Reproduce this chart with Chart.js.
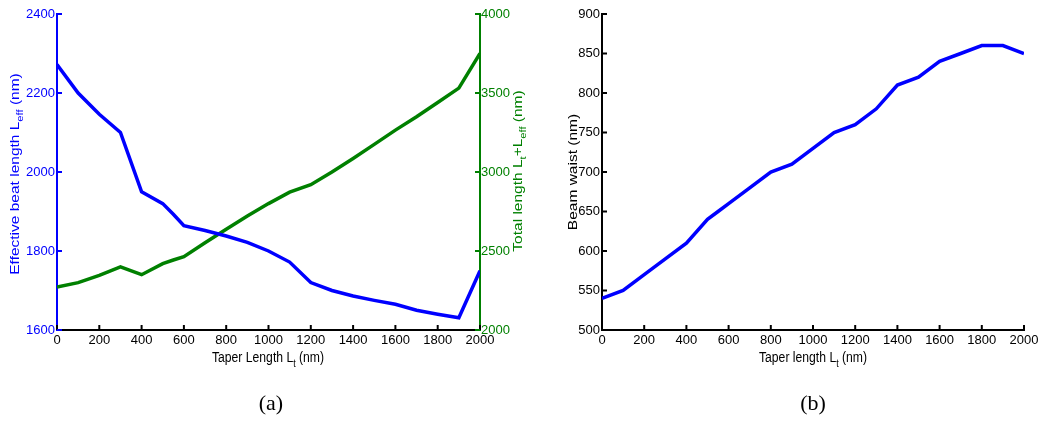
<!DOCTYPE html>
<html>
<head>
<meta charset="utf-8">
<script src="https://cdn.jsdelivr.net/npm/chart.js@4.4.0/dist/chart.umd.min.js"></script>
<style>
  body { margin: 0; background: #fff; width: 1039px; height: 421px; overflow: hidden; position: relative; }
  #chartA { position: absolute; left: 0; top: 0; }
  #chartB { position: absolute; left: 540px; top: 0; }
  .cap { position: absolute; top: 390px; width: 100px; text-align: center; font: 22px "Liberation Serif", serif; color: #000; }
</style>
</head>
<body>
<canvas id="chartA" width="540" height="421"></canvas>
<canvas id="chartB" width="499" height="421"></canvas>
<div class="cap" style="left:221px">(a)</div>
<div class="cap" style="left:763px">(b)</div>

<script>
// valeurs
const taperA = [0, 100, 200, 300, 400, 500, 550, 600, 700, 800, 900, 1000, 1100, 1200, 1300, 1400, 1500, 1600, 1700, 1800, 1900, 2000];
const beatLength = [2272, 2200, 2146, 2100, 1950, 1920, 1893, 1864, 1852, 1838, 1822, 1800, 1772, 1720, 1700, 1686, 1675, 1665, 1650, 1640, 1631, 1750];
const totalLength = [2272, 2300, 2346, 2400, 2350, 2420, 2443, 2464, 2552, 2638, 2722, 2800, 2872, 2920, 3000, 3086, 3175, 3265, 3350, 3440, 3531, 3750];

const taperB = [0, 100, 200, 300, 400, 500, 550, 600, 700, 800, 900, 1000, 1100, 1200, 1300, 1400, 1500, 1600, 1700, 1800, 1900, 2000];
const beamWaist = [540, 550, 570, 590, 610, 640, 650, 660, 680, 700, 710, 730, 750, 760, 780, 810, 820, 840, 850, 860, 860, 850];

// graduations
const taperTicks = [0, 200, 400, 600, 800, 1000, 1200, 1400, 1600, 1800, 2000];
const beatTicks = [1600, 1800, 2000, 2200, 2400];
const totalTicks = [2000, 2500, 3000, 3500, 4000];
const waistTicks = [500, 550, 600, 650, 700, 750, 800, 850, 900];

const BLUE = '#0000ff';
const GREEN = '#008000';
const FONT = '"Liberation Sans", Arial, sans-serif';

function pts(xs, ys) {
    return xs.map((x, i) => ({ x: x, y: ys[i] }));
}

// axe avec largeur/hauteur imposée
function axis(opts) {
    return {
        type: 'linear',
        position: opts.position,
        min: opts.min,
        max: opts.max,
        grid: { display: false, drawTicks: false, tickLength: 0 },
        border: { display: true, color: opts.color, width: 2 },
        ticks: {
            color: opts.color,
            font: { family: FONT, size: 13 },
            padding: opts.padding || 3,
            autoSkip: false,
            maxRotation: 0,
            callback: v => String(v) // pas de séparateur de milliers
        },
        afterBuildTicks: s => { s.ticks = opts.ticks.map(v => ({ value: v })); },
        afterFit: s => {
            if (opts.width !== undefined) s.width = opts.width;
            if (opts.height !== undefined) s.height = opts.height;
            s.paddingLeft = 0; s.paddingRight = 0; s.paddingTop = 0; s.paddingBottom = 0;
        }
    };
}

// texte avec indices
function richText(ctx, t) {
    const size = t.size;
    ctx.save();
    ctx.translate(t.x, t.y);
    ctx.rotate(t.rot);
    ctx.scale(t.sx || 1, t.sy || 1);
    ctx.fillStyle = t.color;
    ctx.textBaseline = 'alphabetic';
    let total = 0;
    t.parts.forEach(p => {
        ctx.font = (p.sub ? size * 0.72 : size) + 'px ' + FONT;
        p.w = ctx.measureText(p.t).width;
        total += p.w;
    });
    let x = -total / 2;
    const base = size * 0.36;
    t.parts.forEach(p => {
        ctx.font = (p.sub ? size * 0.72 : size) + 'px ' + FONT;
        ctx.fillText(p.t, x, p.sub ? base + size * 0.32 : base);
        x += p.w;
    });
    ctx.restore();
}

// petites graduations vers l'intérieur + titres d'axes
const matlabAxes = {
    id: 'matlabAxes',
    afterDraw(chart, args, opts) {
        const ctx = chart.ctx;
        ctx.save();
        Object.values(chart.scales).forEach(s => {
            ctx.strokeStyle = s.options.border.color;
            ctx.lineWidth = 2;
            s.ticks.forEach(t => {
                const p = s.getPixelForValue(t.value);
                ctx.beginPath();
                if (s.axis === 'x') {
                    ctx.moveTo(p, s.top); ctx.lineTo(p, s.top - 5);
                } else if (s.position === 'left') {
                    ctx.moveTo(s.right, p); ctx.lineTo(s.right + 5, p);
                } else {
                    ctx.moveTo(s.left, p); ctx.lineTo(s.left - 5, p);
                }
                ctx.stroke();
            });
        });
        ctx.restore();
        (opts.titles || []).forEach(t => richText(ctx, t));
    }
};

const chartA = new Chart(document.getElementById('chartA').getContext('2d'), {
    type: 'line',
    data: {
        datasets: [
            { data: pts(taperA, beatLength), yAxisID: 'y', borderColor: BLUE, borderWidth: 3.5, pointRadius: 0, tension: 0 },
            { data: pts(taperA, totalLength), yAxisID: 'y2', borderColor: GREEN, borderWidth: 3.5, pointRadius: 0, tension: 0 }
        ]
    },
    options: {
        responsive: false,
        animation: false,
        events: [],
        layout: { padding: { top: 14, left: 0, right: 0, bottom: 0 } },
        scales: {
            x: axis({ position: 'bottom', min: 0, max: 2000, ticks: taperTicks, color: '#000', height: 91, padding: 3 }),
            y: axis({ position: 'left', min: 1600, max: 2400, ticks: beatTicks, color: BLUE, width: 57, padding: 2 }),
            y2: axis({ position: 'right', min: 2000, max: 4000, ticks: totalTicks, color: GREEN, width: 60, padding: 1 })
        },
        plugins: {
            legend: { display: false },
            tooltip: { enabled: false },
            matlabAxes: {
                titles: [
                    { parts: [{ t: 'Effective beat length L' }, { t: 'eff', sub: true }, { t: ' (nm)' }], size: 15.5, sy: 0.87, x: 14, y: 174, rot: -Math.PI / 2, color: BLUE },
                    { parts: [{ t: 'Total length L' }, { t: 't', sub: true }, { t: '+L' }, { t: 'eff', sub: true }, { t: ' (nm)' }], size: 15.5, sy: 0.87, x: 517, y: 171, rot: -Math.PI / 2, color: GREEN },
                    { parts: [{ t: 'Taper Length L' }, { t: 't', sub: true }, { t: ' (nm)' }], size: 14, sx: 0.87, x: 268, y: 357, rot: 0, color: '#000' }
                ]
            }
        }
    },
    plugins: [matlabAxes]
});

const chartB = new Chart(document.getElementById('chartB').getContext('2d'), {
    type: 'line',
    data: {
        datasets: [
            { data: pts(taperB, beamWaist), borderColor: BLUE, borderWidth: 3.5, pointRadius: 0, tension: 0 }
        ]
    },
    options: {
        responsive: false,
        animation: false,
        events: [],
        layout: { padding: { top: 14, left: 0, right: 15, bottom: 0 } },
        scales: {
            x: axis({ position: 'bottom', min: 0, max: 2000, ticks: taperTicks, color: '#000', height: 91, padding: 3 }),
            y: axis({ position: 'left', min: 500, max: 900, ticks: waistTicks, color: '#000', width: 62, padding: 2 })
        },
        plugins: {
            legend: { display: false },
            tooltip: { enabled: false },
            matlabAxes: {
                titles: [
                    { parts: [{ t: 'Beam waist (nm)' }], size: 15.5, sy: 0.87, x: 32, y: 172, rot: -Math.PI / 2, color: '#000' },
                    { parts: [{ t: 'Taper length L' }, { t: 't', sub: true }, { t: ' (nm)' }], size: 14, sx: 0.87, x: 273, y: 357, rot: 0, color: '#000' }
                ]
            }
        }
    },
    plugins: [matlabAxes]
});
</script>
</body>
</html>
